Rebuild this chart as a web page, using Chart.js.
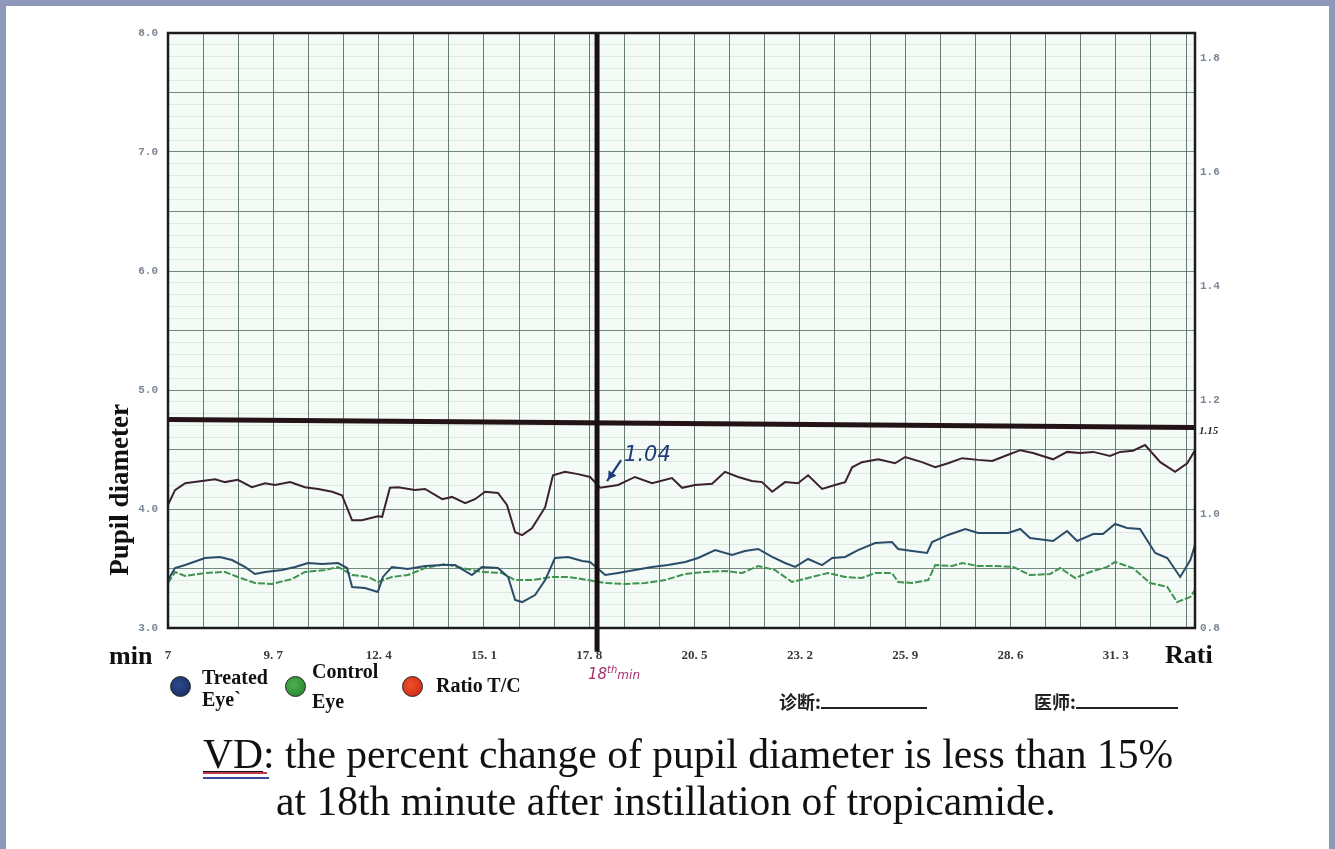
<!DOCTYPE html>
<html><head><meta charset="utf-8">
<script src="https://cdn.jsdelivr.net/npm/chart.js@4.4.1/dist/chart.umd.min.js"></script>
<style>
html,body{margin:0;padding:0;background:#fff;}
#wrap{position:relative;width:1335px;height:849px;overflow:hidden;background:#fff;}
#frame{position:absolute;left:0;top:0;width:1335px;height:849px;box-sizing:border-box;border:6px solid #8e99b9;border-bottom:none;pointer-events:none;}
canvas{position:absolute;left:0;top:0;}
.t{position:absolute;font-family:"Liberation Serif","Times New Roman",serif;color:#111;white-space:nowrap;}
.b{font-weight:bold;}
.dot{position:absolute;width:21px;height:21px;border-radius:50%;border:1.5px solid #222;box-sizing:border-box;}
.cn{position:absolute;font-family:"Noto Sans CJK SC",sans-serif;font-weight:bold;font-size:18px;color:#222;white-space:nowrap;}
.blank{display:inline-block;border-bottom:2px solid #222;vertical-align:baseline;height:14px;}
</style></head><body>
<div id="wrap">
<canvas id="c" width="1335" height="849"></canvas>
<div id="frame"></div>

<div class="t b" style="left:119px;top:490px;font-size:27px;transform:translate(-50%,-50%) rotate(-90deg);">Pupil diameter</div>
<div class="t b" style="left:109px;top:641px;font-size:26px;line-height:30px;">min</div>
<div class="t b" style="left:1165px;top:640px;font-size:26px;line-height:30px;">Rati</div>

<div class="dot" style="left:170px;top:676px;background:radial-gradient(circle at 40% 40%,#2c4a8a,#142a5a);"></div>
<div class="t b" style="left:202px;top:666px;font-size:20px;line-height:22px;">Treated<br>Eye`</div>
<div class="dot" style="left:285px;top:676px;background:radial-gradient(circle at 40% 40%,#4fb050,#22802a);"></div>
<div class="t b" style="left:312px;top:656px;font-size:20px;line-height:30px;">Control<br>Eye</div>
<div class="dot" style="left:402px;top:676px;background:radial-gradient(circle at 40% 40%,#f0502a,#c8240e);"></div>
<div class="t b" style="left:436px;top:674px;font-size:20px;line-height:22px;">Ratio T/C</div>

<div class="t" style="left:588px;top:664px;font-family:'DejaVu Sans',sans-serif;font-style:italic;font-size:15px;color:#a3306c;">18<sup style="font-size:10px;">th</sup><span style="font-size:12px;">min</span></div>

<div class="cn" style="left:779px;top:688px;">诊断:<span class="blank" style="width:106px;"></span></div>
<div class="cn" style="left:1034px;top:688px;">医师:<span class="blank" style="width:102px;"></span></div>

<div class="t" style="left:203px;top:734px;font-size:41.6px;line-height:41px;"><span style="text-decoration:underline;text-decoration-thickness:1px;text-underline-offset:3px;">VD</span>: the percent change of pupil diameter is less than 15%</div>
<div style="position:absolute;left:203px;top:772px;width:64px;height:2px;background:#c23a4a;"></div>
<div style="position:absolute;left:203px;top:777px;width:66px;height:2px;background:#3a4a9a;"></div>
<div class="t" style="left:276px;top:781px;font-size:41.6px;line-height:41px;">at 18th minute after instillation of tropicamide.</div>
</div>

<script>
// ---- data ----
const treatedT = [7.00,7.18,7.44,7.95,8.33,8.64,8.97,9.23,9.49,9.92,10.26,10.59,10.95,11.36,11.59,11.72,12.05,12.38,12.51,12.74,13.15,13.59,14.03,14.36,14.79,15.05,15.46,15.72,15.90,16.08,16.41,16.67,16.92,17.26,17.62,17.82,18.21,18.54,18.97,19.41,19.82,20.26,20.59,21.03,21.46,21.79,22.13,22.49,22.82,23.08,23.41,23.77,24.03,24.36,24.69,25.13,25.56,25.72,26.08,26.46,26.59,27.00,27.44,27.77,28.21,28.54,28.85,29.10,29.69,30.05,30.31,30.72,30.97,31.28,31.59,31.92,32.31,32.62,32.95,33.21,33.33];
const treated = [3.403,3.504,3.529,3.588,3.597,3.571,3.513,3.454,3.471,3.487,3.513,3.546,3.538,3.546,3.504,3.345,3.336,3.303,3.429,3.513,3.496,3.521,3.529,3.529,3.445,3.513,3.504,3.429,3.235,3.218,3.277,3.403,3.588,3.597,3.563,3.555,3.445,3.462,3.487,3.513,3.529,3.555,3.588,3.655,3.613,3.647,3.664,3.597,3.546,3.513,3.580,3.529,3.588,3.597,3.655,3.714,3.723,3.664,3.647,3.630,3.723,3.782,3.832,3.798,3.798,3.798,3.832,3.756,3.731,3.815,3.731,3.790,3.790,3.874,3.840,3.832,3.630,3.588,3.429,3.571,3.697];

const controlT = [7.00,7.18,7.44,7.95,8.46,8.79,9.23,9.67,10.18,10.51,11.03,11.36,11.72,12.13,12.38,12.74,13.15,13.59,14.10,14.54,15.05,15.56,15.90,16.33,16.85,17.26,17.77,18.21,18.72,19.23,19.74,20.26,20.77,21.28,21.72,22.13,22.56,23.00,23.51,23.92,24.36,24.79,25.13,25.56,25.72,26.08,26.49,26.67,27.10,27.36,27.77,28.21,28.67,29.10,29.62,29.87,30.26,30.64,31.08,31.28,31.74,32.18,32.62,32.87,33.21,33.33];
const control = [3.378,3.471,3.437,3.462,3.471,3.429,3.378,3.370,3.412,3.471,3.487,3.513,3.445,3.429,3.387,3.429,3.445,3.504,3.538,3.504,3.471,3.462,3.403,3.403,3.429,3.429,3.403,3.378,3.370,3.378,3.403,3.454,3.471,3.479,3.462,3.521,3.487,3.387,3.429,3.462,3.429,3.420,3.462,3.462,3.387,3.378,3.403,3.529,3.521,3.546,3.521,3.521,3.513,3.445,3.454,3.504,3.420,3.471,3.513,3.555,3.504,3.378,3.345,3.218,3.261,3.319];

const ratioT = [7.00,7.18,7.44,7.87,8.21,8.46,8.79,9.15,9.49,9.74,10.13,10.51,10.85,11.21,11.46,11.72,11.97,12.38,12.49,12.69,12.90,13.33,13.59,14.03,14.28,14.62,14.87,15.13,15.46,15.69,15.90,16.08,16.33,16.67,16.87,17.18,17.51,17.82,18.08,18.54,18.97,19.41,19.92,20.18,20.51,20.95,21.28,21.62,21.97,22.23,22.49,22.82,23.15,23.41,23.77,24.10,24.36,24.54,24.79,25.21,25.64,25.90,26.33,26.67,27.00,27.36,27.77,28.13,28.54,28.85,29.18,29.69,30.05,30.38,30.72,31.15,31.41,31.74,32.05,32.44,32.82,33.13,33.33];
const ratio = [1.016,1.042,1.054,1.058,1.061,1.056,1.060,1.047,1.054,1.051,1.056,1.047,1.044,1.039,1.033,0.989,0.989,0.996,0.995,1.046,1.047,1.042,1.044,1.026,1.030,1.019,1.026,1.039,1.037,1.016,0.968,0.963,0.975,1.012,1.068,1.074,1.070,1.065,1.046,1.051,1.065,1.054,1.063,1.046,1.051,1.053,1.074,1.065,1.058,1.056,1.039,1.056,1.054,1.068,1.044,1.051,1.056,1.082,1.091,1.096,1.089,1.100,1.091,1.082,1.089,1.098,1.095,1.093,1.104,1.112,1.107,1.096,1.109,1.107,1.109,1.102,1.109,1.111,1.121,1.091,1.074,1.089,1.112];

const thresholdT = [7.00, 33.33];
const threshold = [1.166, 1.152];
const markMinute = 18;
const markRatio = 1.04;

const xTickLabels = ['7','9. 7','12. 4','15. 1','17. 8','20. 5','23. 2','25. 9','28. 6','31. 3'];
const xStart = 7, xEnd = 33.33, xGridStep = 0.9, labelEvery = 3;
const ratioTickValues = [0.8,1.0,1.2,1.4,1.6,1.8];

const zip = (xs, ys) => xs.map((x, i) => ({x, y: ys[i]}));

const bgPlugin = {
  id: 'bg',
  beforeDraw(chart) {
    const {ctx, chartArea: a} = chart;
    ctx.save(); ctx.fillStyle = '#f4faf6'; ctx.fillRect(a.left, a.top, a.right - a.left, a.bottom - a.top); ctx.restore();
  },
  afterDatasetsDraw(chart) {
    const {ctx, chartArea: a} = chart;
    ctx.save(); ctx.strokeStyle = '#1c1c1c'; ctx.lineWidth = 2.5;
    ctx.strokeRect(a.left, a.top, a.right - a.left, a.bottom - a.top); ctx.restore();
  },
  afterDraw(chart) {
    const {ctx, chartArea: a} = chart;
    const xs = chart.scales.x, ys = chart.scales.y1;
    const px = xs.getPixelForValue(markMinute), py = ys.getPixelForValue(markRatio);
    ctx.save();
    ctx.fillStyle = '#1f3c7a'; ctx.strokeStyle = '#1f3c7a';
    ctx.font = 'italic 21px "DejaVu Sans", sans-serif';
    ctx.textBaseline = 'alphabetic';
    ctx.fillText('1.04', px + 27, py - 30);
    ctx.lineWidth = 2.2;
    const sx = px + 24, sy = py - 31, ex = px + 10, ey = py - 10;
    ctx.beginPath(); ctx.moveTo(sx, sy); ctx.lineTo(ex, ey); ctx.stroke();
    const ang = Math.atan2(ey - sy, ex - sx);
    ctx.beginPath();
    ctx.moveTo(ex - 2 * Math.cos(ang), ey - 2 * Math.sin(ang));
    ctx.lineTo(ex - 11 * Math.cos(ang - 0.45), ey - 11 * Math.sin(ang - 0.45));
    ctx.lineTo(ex - 11 * Math.cos(ang + 0.45), ey - 11 * Math.sin(ang + 0.45));
    ctx.closePath(); ctx.fill();
    ctx.fillStyle = '#2a2a2a';
    ctx.font = 'italic bold 11px "Liberation Serif", serif';
    ctx.fillText('1.15', a.right + 4, ys.getPixelForValue(1.15) + 5);
    ctx.restore();
  }
};

const tickFont = {family: '"Liberation Mono", monospace', size: 11, weight: 'bold'};

new Chart(document.getElementById('c'), {
  type: 'line',
  data: {
    datasets: [
      {label: 'mark', data: [{x: markMinute, y: 2.8}, {x: markMinute, y: 8.0}], yAxisID: 'y', borderColor: '#1a1114', borderWidth: 5, pointRadius: 0, clip: false},
      {label: 'threshold', data: zip(thresholdT, threshold), yAxisID: 'y1', borderColor: '#231317', borderWidth: 5, pointRadius: 0},
      {label: 'Ratio T/C', data: zip(ratioT, ratio), yAxisID: 'y1', borderColor: '#3a2230', borderWidth: 2, pointRadius: 0, tension: 0},
      {label: 'Treated Eye', data: zip(treatedT, treated), yAxisID: 'y', borderColor: '#2b4c68', borderWidth: 2, pointRadius: 0, tension: 0},
      {label: 'Control Eye', data: zip(controlT, control), yAxisID: 'y', borderColor: '#3f9450', borderWidth: 2, pointRadius: 0, tension: 0, borderDash: [7, 2]}
    ]
  },
  options: {
    responsive: false, animation: false, devicePixelRatio: 1,
    layout: {padding: {top: 33, left: 0, right: 0, bottom: 0}},
    plugins: {legend: {display: false}, tooltip: {enabled: false}},
    scales: {
      x: {
        type: 'linear', min: xStart, max: xEnd,
        afterBuildTicks: s => {
          const t = [];
          for (let k = 0; xStart + k * xGridStep <= xEnd + 1e-9; k++) t.push({value: +(xStart + k * xGridStep).toFixed(2)});
          s.ticks = t;
        },
        afterFit: s => { s.height = 849 - 628; },
        grid: {color: 'rgba(62,88,78,0.78)', lineWidth: 1, drawTicks: false},
        border: {display: false},
        ticks: {
          autoSkip: false, maxRotation: 0, padding: 20, color: '#3a3a3a',
          font: {family: '"Liberation Serif", serif', size: 13, weight: 'bold'},
          callback: (v, i) => (i % labelEvery === 0 ? (xTickLabels[i / labelEvery] || '') : '')
        }
      },
      y: {
        position: 'left', min: 3, max: 8,
        afterFit: s => { s.width = 168; },
        grid: {color: 'rgba(62,88,78,0.7)', lineWidth: 1, drawTicks: false},
        border: {display: false},
        ticks: {stepSize: 0.5, padding: 10, color: '#7a8694', font: tickFont,
          callback: v => (Math.abs(v - Math.round(v)) < 1e-6 ? v.toFixed(1) : '')}
      },
      yMinor: {
        position: 'left', min: 3, max: 8,
        afterFit: s => { s.width = 0; },
        grid: {color: 'rgba(110,140,125,0.15)', lineWidth: 1, drawTicks: false},
        border: {display: false},
        ticks: {display: false, stepSize: 0.1}
      },
      y1: {
        position: 'right', min: 0.8, max: 1.844,
        afterBuildTicks: s => { s.ticks = ratioTickValues.map(v => ({value: v})); },
        afterFit: s => { s.width = 1335 - 1195; },
        grid: {display: false, drawTicks: false},
        border: {display: false},
        ticks: {padding: 5, color: '#7a8694', font: tickFont, callback: v => v.toFixed(1)}
      }
    }
  },
  plugins: [bgPlugin]
});
</script>
</body></html>
